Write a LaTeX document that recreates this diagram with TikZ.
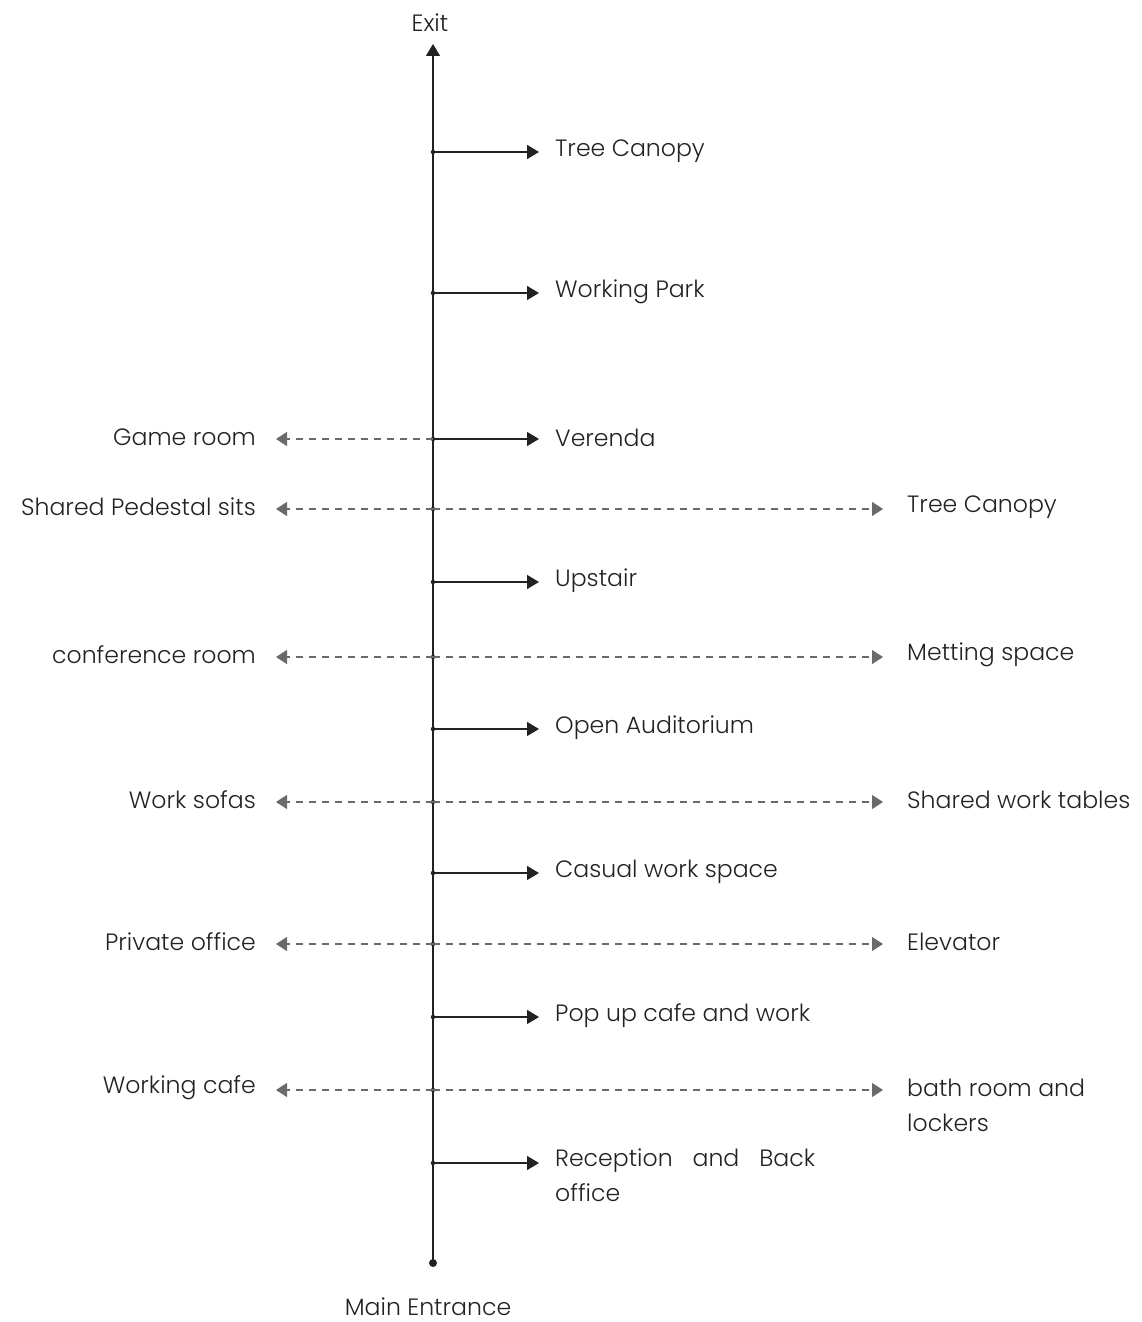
\documentclass[tikz,border=0pt]{standalone}
\usepackage{fontspec}
\setmainfont{Poppins Light}
\usetikzlibrary{arrows.meta}
\definecolor{ink}{HTML}{222222}
\definecolor{dash}{HTML}{6A6A6A}
\begin{document}
\begin{tikzpicture}[x=1pt,y=-1pt,
  lbl/.style={font=\fontsize{23.6}{35}\selectfont, text=ink, inner sep=0pt},
  spine/.style={draw=ink, line width=1.4pt},
  branch/.style={draw=ink, line width=1.4pt, -{Triangle[length=12pt,width=14pt]}},
  side/.style={draw=dash, line width=1.1pt, dash pattern=on 7pt off 6pt,
               -{Triangle[length=11pt,width=14pt]}},
  knot/.style={circle, fill=ink, inner sep=0pt, minimum size=4.5pt}]
\useasboundingbox (0,0) rectangle (1142,1322);

% main circulation spine
\coordinate (top) at (433,44);
\node[knot, minimum size=8pt] (start) at (433,1263) {};
\draw[spine, -{Triangle[length=12pt,width=14pt]}] (start.center) -- (top);
\node[lbl, anchor=south] (exit) at (430,32) {Exit};
\node[lbl, anchor=north] (entrance) at (428,1298) {Main Entrance};

% junctions: name / y
\foreach \n/\y in {a/152,b/293,c/439,d/509,e/582,f/657,g/729,h/802,i/873,j/944,k/1017,l/1090,m/1163}{
  \node[knot] (s\n) at (433,\y) {};
  \coordinate (r\n) at (539,\y);
  \coordinate (dl\n) at (276,\y);
  \coordinate (dr\n) at (883,\y);
}

% solid branches to the right
\foreach \n/\t in {a/Tree Canopy,b/Working Park,c/Verenda,e/Upstair,g/Open Auditorium,i/Casual work space,k/Pop up cafe and work}{
  \draw[branch] (s\n.center) -- (r\n);
  \node[lbl, anchor=west] (t\n) at ([xshift=16pt,yshift=1pt]r\n) {\t};
}
\draw[branch] (sm.center) -- (rm);
\node[lbl, anchor=north west, align=left] (tm) at (555,1149)
  {\makebox[260pt][s]{Reception\hfill and\hfill Back}\\office};

% dashed branches to the left
\foreach \n/\t in {c/Game room,d/Shared Pedestal sits,f/conference room,h/Work sofas,j/Private office,l/Working cafe}{
  \draw[side] (s\n.center) -- (dl\n);
  \node[lbl, anchor=east] (L\n) at ([xshift=-20pt,yshift=2pt]dl\n) {\t};
}

% dashed branches to the right
\foreach \n/\t in {d/Tree Canopy,f/Metting space,h/Shared work tables,j/Elevator}{
  \draw[side] (s\n.center) -- (dr\n);
  \node[lbl, anchor=west] (R\n) at ([xshift=24pt,yshift=2pt]dr\n) {\t};
}
\draw[side] (sl.center) -- (drl);
\node[lbl, anchor=north west, align=left] (Rl) at (907,1079) {bath room and\\lockers};
\end{tikzpicture}
\end{document}
